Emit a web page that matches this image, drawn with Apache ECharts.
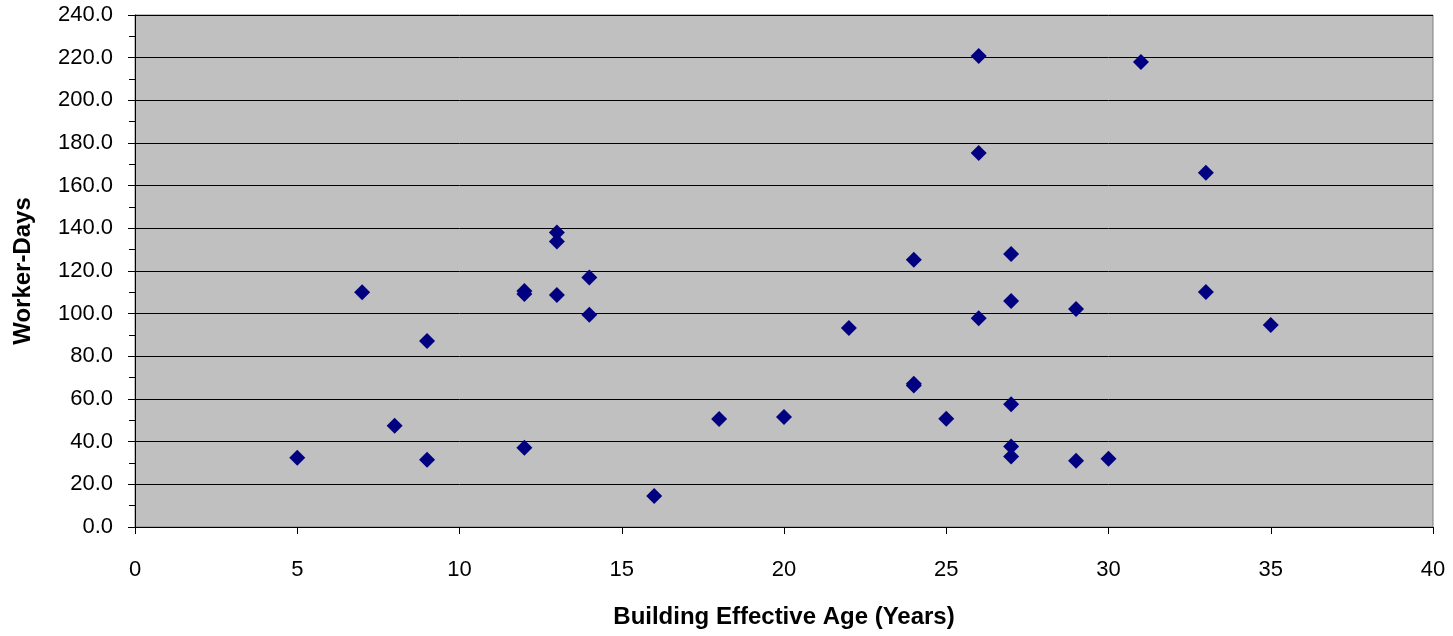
<!DOCTYPE html>
<html>
<head>
<meta charset="utf-8">
<script src="https://cdn.jsdelivr.net/npm/echarts@6/dist/echarts.min.js"></script>
<style>
  html, body { margin: 0; padding: 0; background: #ffffff; }
  #chart { width: 1453px; height: 636px; }
</style>
</head>
<body>
<div id="chart"></div>
<script>
// Building effective age (years) vs. worker-days
const ages = [5, 7, 8, 9, 9, 12, 12, 12, 13, 13, 13, 14, 14, 16, 18, 20, 22,
  24, 24, 24, 25, 26, 26, 26, 27, 27, 27, 27, 27, 29, 29, 30, 31, 33, 33, 35];
const workerDays = [32.5, 110, 47.5, 87.2, 31.5, 110.6, 109.2, 37.2, 138.1, 133.8, 108.8, 116.9, 99.5, 14.5, 50.6, 51.6, 93.3,
  125.3, 67.2, 66.3, 50.8, 220.8, 175.3, 97.9, 128.0, 105.9, 57.5, 37.7, 33.0, 102.2, 31.0, 32.0, 218.0, 166.0, 110.2, 94.7];

const xTitle = 'Building Effective Age (Years)';
const yTitle = 'Worker-Days';

const points = ages.map((a, i) => [a, workerDays[i]]);

const chart = echarts.init(document.getElementById('chart'));
const font = 'Liberation Sans, Arial, sans-serif';

chart.setOption({
  animation: false,
  backgroundColor: '#ffffff',
  grid: {
    left: 135, right: 20, top: 15, bottom: 109,
    show: true, backgroundColor: '#c0c0c0', borderColor: '#808080', borderWidth: 1
  },
  xAxis: {
    type: 'value', min: 0, max: 40, interval: 5,
    axisLine: { show: true, onZero: false, lineStyle: { color: '#000', width: 1 } },
    axisTick: { show: true, inside: false, length: 7, lineStyle: { color: '#000' } },
    axisLabel: { color: '#000', fontFamily: font, fontSize: 22, margin: 32 },
    splitLine: { show: false },
    name: xTitle, nameLocation: 'middle', nameGap: 78,
    nameTextStyle: { color: '#000', fontFamily: font, fontSize: 24, fontWeight: 'bold' }
  },
  yAxis: {
    type: 'value', min: 0, max: 240, interval: 20,
    axisLine: { show: true, lineStyle: { color: '#000', width: 1 } },
    axisTick: { show: true, inside: false, length: 7, lineStyle: { color: '#000' } },
    minorTick: { show: true, splitNumber: 2, length: 6, lineStyle: { color: '#000' } },
    axisLabel: { color: '#000', fontFamily: font, fontSize: 22, margin: 22,
      formatter: v => v.toFixed(1) },
    splitLine: { show: true, lineStyle: { color: '#000', width: 1 } },
    name: yTitle, nameLocation: 'middle', nameGap: 100, nameRotate: 90,
    nameTextStyle: { color: '#000', fontFamily: font, fontSize: 24, fontWeight: 'bold' }
  },
  series: [{
    type: 'scatter',
    data: points,
    symbol: 'diamond',
    symbolSize: 16,
    itemStyle: { color: '#000080', opacity: 1 }
  }]
});
</script>
</body>
</html>
